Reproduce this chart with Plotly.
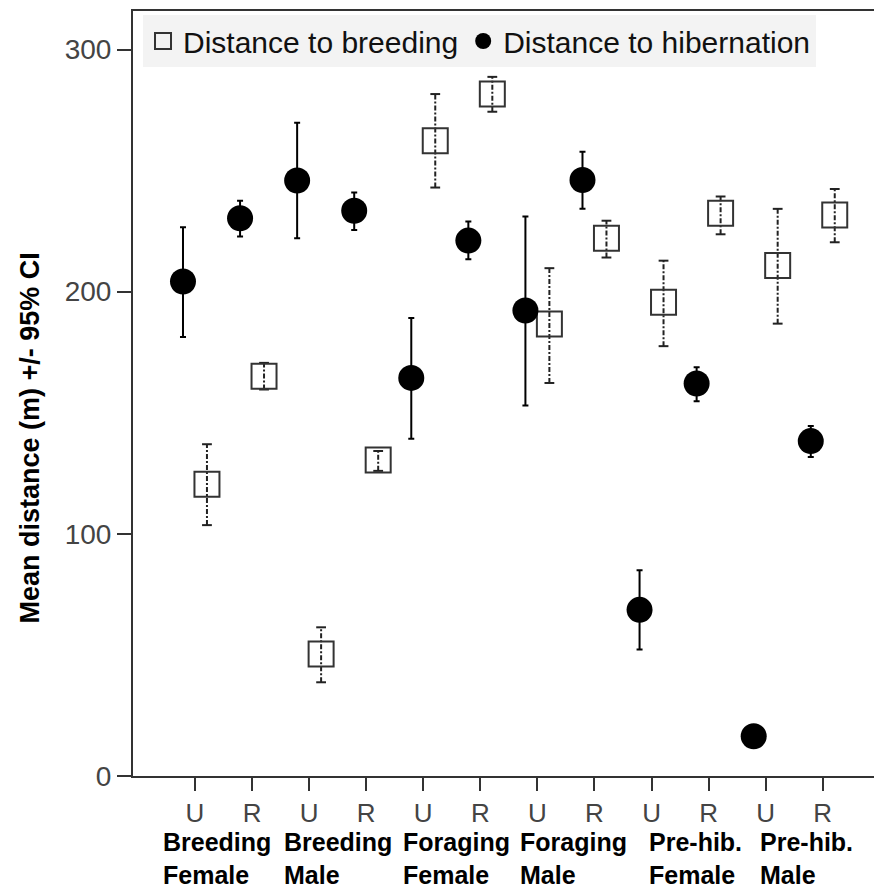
import plotly.graph_objects as go

# ---- data ----
tick_labels = ["U", "R"] * 6
groups = ["Breeding<br>Female", "Breeding<br>Male", "Foraging<br>Female",
          "Foraging<br>Male", "Pre-hib.<br>Female", "Pre-hib.<br>Male"]

breed_mean = [120.5, 165.1, 50.4, 130.5, 262.3, 281.6, 186.7, 222.1, 195.6, 232.4, 210.8, 231.7]
breed_lo   = [103.6, 159.6, 38.7, 126.0, 243.0, 274.3, 162.3, 214.1, 177.5, 223.7, 186.8, 220.4]
breed_hi   = [137.0, 170.6, 61.4, 134.2, 281.6, 288.7, 209.7, 229.3, 212.8, 239.3, 234.2, 242.4]

hib_mean = [204.2, 230.3, 245.9, 233.4, 164.4, 221.1, 192.2, 246.1, 68.6, 162.1, 16.4, 138.3]
hib_lo   = [181.3, 222.8, 222.1, 225.5, 139.3, 213.4, 153.0, 234.2, 52.2, 154.8, 16.4, 131.7]
hib_hi   = [226.6, 237.5, 269.8, 241.0, 189.1, 229.0, 231.0, 257.8, 85.0, 168.8, 16.4, 144.5]

# ---- layout helpers ----
n = len(tick_labels)
pos = list(range(n))
off = 0.21
x_hib = [p - off for p in pos]
x_breed = [p + off for p in pos]

fig = go.Figure()

# dashed CI bars for breeding (squares)
ex, ey = [], []
for xi, lo, hi in zip(x_breed, breed_lo, breed_hi):
    ex += [xi, xi, None]
    ey += [lo, hi, None]
fig.add_trace(go.Scatter(
    x=ex, y=ey, mode="lines+markers", showlegend=False, hoverinfo="skip",
    line=dict(color="#222222", width=2, dash="5px,2px,2px,2px"),
    marker=dict(symbol="line-ew-open", size=7, line=dict(color="#222222", width=2)),
))

fig.add_trace(go.Scatter(
    x=x_breed, y=breed_mean, mode="markers", name="Distance to breeding",
    marker=dict(symbol="square-open", size=25, color="#333333", line=dict(width=2)),
))

fig.add_trace(go.Scatter(
    x=x_hib, y=hib_mean, mode="markers", name="Distance to hibernation",
    marker=dict(symbol="circle", size=26, color="#000000"),
    error_y=dict(type="data", symmetric=False,
                 array=[h - m for h, m in zip(hib_hi, hib_mean)],
                 arrayminus=[m - l for m, l in zip(hib_mean, hib_lo)],
                 color="#000000", thickness=2, width=3),
))

font_family = "Liberation Sans, Arial, sans-serif"

# page body has an 8px margin: figure is sized/placed to compensate
fig.update_layout(
    width=874, height=884,
    margin=dict(l=125, r=2, t=1, b=116),
    paper_bgcolor="white", plot_bgcolor="white",
    font=dict(family=font_family, color="#000000"),
    showlegend=True,
    legend=dict(orientation="h", x=0.0134, y=0.9948, xanchor="left", yanchor="top",
                bgcolor="#f3f3f3", font=dict(size=30, color="#111111"),
                tracegroupgap=0),
    xaxis=dict(range=[-1.086, 12.003], tickmode="array", tickvals=pos,
               ticktext=tick_labels, ticks="outside", ticklen=13, tickwidth=2,
               tickcolor="#333333", showline=True, linecolor="#333333", linewidth=2,
               mirror=True, showgrid=False, zeroline=False,
               tickfont=dict(size=26, color="#444444")),
    yaxis=dict(range=[0, 315.9], tickmode="array", tickvals=[0, 100, 200, 300],
               ticks="outside", ticklen=14, tickwidth=2, tickcolor="#333333",
               showline=True, linecolor="#333333", linewidth=2, showgrid=False,
               zeroline=False, tickfont=dict(size=28, color="#444444")),
)

shifts = [-7, 0, 5, 8, 15, 12]
for g, (txt, sh) in enumerate(zip(groups, shifts)):
    fig.add_annotation(x=2 * g + 0.5, y=0, xref="x", yref="paper",
                       text="<b>" + txt + "</b>", showarrow=False, align="left",
                       xanchor="center", yanchor="top", xshift=sh, yshift=-50,
                       font=dict(size=25, color="#000000", family=font_family))

fig.add_annotation(x=0, y=0.5, xref="paper", yref="paper", xanchor="center",
                   yanchor="middle", xshift=-104, yshift=-45, textangle=-90,
                   showarrow=False, text="<b>Mean distance (m) +/- 95% CI</b>",
                   font=dict(size=27, color="#000000", family=font_family))

fig.write_html("out.html")
